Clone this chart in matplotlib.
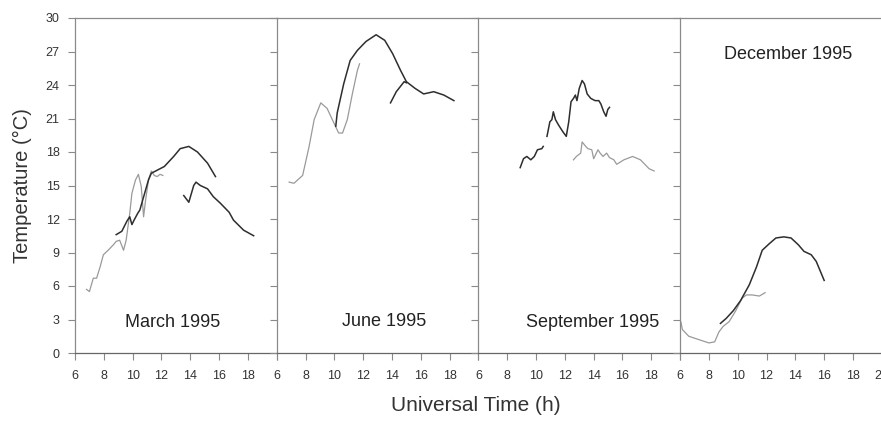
import matplotlib
matplotlib.use("Agg")
import matplotlib.pyplot as plt

plt.rcParams['font.family'] = ['Liberation Sans', 'DejaVu Sans']

# panel titles and where they sit (data coords)
months = ["March 1995", "June 1995", "September 1995", "December 1995"]
label_x = [12.75, 13.45, 13.9, 13.5]
label_y = [2.7, 2.8, 2.7, 26.7]

hour_ticks = [6, 8, 10, 12, 14, 16, 18, 20]
hour_labels = ["6", "8", "10", "12", "14", "16", "18", "20"]
temp_ticks = [0, 3, 6, 9, 12, 15, 18, 21, 24, 27, 30]

# March 1995
mar_gray_t = [6.8, 7.0, 7.27, 7.5, 7.74, 7.97, 8.3, 8.67, 8.86, 9.1, 9.37, 9.55, 9.8, 9.95,
              10.2, 10.4, 10.6, 10.76, 10.9, 11.1, 11.3, 11.5, 11.7, 11.9, 12.1]
mar_gray_T = [5.7, 5.5, 6.7, 6.7, 7.7, 8.8, 9.2, 9.7, 10.0, 10.1, 9.2, 10.1, 12.5, 14.3,
              15.5, 16.0, 14.9, 12.2, 13.7, 15.5, 16.3, 15.9, 15.8, 16.0, 15.9]
mar_dark1_t = [8.86, 9.25, 9.6, 9.8, 9.95, 10.1, 10.35, 10.5, 10.7, 10.9, 11.1, 11.3,
               12.2, 12.85, 13.3, 13.9, 14.5, 15.2, 15.75]
mar_dark1_T = [10.6, 10.9, 11.8, 12.2, 11.5, 11.9, 12.5, 12.8, 13.7, 14.6, 15.5, 16.1,
               16.7, 17.6, 18.3, 18.5, 18.0, 17.0, 15.8]
mar_dark2_t = [13.55, 13.9, 14.24, 14.4, 14.7, 15.2, 15.6, 16.1, 16.7, 17.0, 17.7, 18.4]
mar_dark2_T = [14.1, 13.5, 15.0, 15.3, 15.0, 14.7, 14.0, 13.4, 12.6, 11.9, 11.0, 10.5]

# June 1995
jun_gray_t = [6.86, 7.2, 7.8, 8.25, 8.6, 9.06, 9.5, 9.97, 10.3, 10.57, 10.9, 11.25, 11.6, 11.75]
jun_gray_T = [15.3, 15.2, 15.9, 18.5, 20.9, 22.4, 21.9, 20.6, 19.7, 19.7, 20.9, 23.2, 25.3, 25.9]
jun_dark1_t = [10.1, 10.2, 10.65, 11.1, 11.6, 12.2, 12.9, 13.5, 14.05, 14.6, 15.0,
               15.6, 16.2, 16.9, 17.6, 18.3]
jun_dark1_T = [20.3, 21.5, 24.1, 26.2, 27.1, 27.9, 28.5, 28.0, 26.8, 25.3, 24.3,
               23.7, 23.2, 23.4, 23.1, 22.6]
jun_dark2_t = [13.9, 14.3, 14.85, 15.0]
jun_dark2_T = [22.4, 23.4, 24.3, 24.2]

# September 1995
sep_dark1_t = [8.9, 9.13, 9.36, 9.64, 9.88, 10.1, 10.4, 10.5]
sep_dark1_T = [16.6, 17.4, 17.6, 17.3, 17.6, 18.2, 18.3, 18.5]
sep_dark2_t = [10.76, 10.96, 11.1, 11.2, 11.35, 11.57, 11.87, 12.1, 12.27, 12.43, 12.6,
               12.73, 12.84, 13.0, 13.2, 13.36, 13.55, 13.8, 14.1, 14.36, 14.5, 14.7,
               14.86, 14.98, 15.1]
sep_dark2_T = [19.4, 20.7, 20.9, 21.6, 20.9, 20.4, 19.8, 19.4, 20.7, 22.5, 22.8,
               23.1, 22.6, 23.7, 24.4, 24.1, 23.2, 22.8, 22.6, 22.6, 22.3, 21.6,
               21.2, 21.8, 22.0]
sep_gray_t = [12.6, 12.8, 13.1, 13.2, 13.45, 13.6, 13.87, 14.0, 14.3, 14.45, 14.65, 14.9,
              15.1, 15.4, 15.6, 16.1, 16.7, 17.25, 17.85, 18.2]
sep_gray_T = [17.3, 17.6, 17.9, 18.9, 18.5, 18.3, 18.2, 17.4, 18.2, 17.9, 17.6, 17.9,
              17.5, 17.3, 16.9, 17.3, 17.6, 17.3, 16.5, 16.3]

# December 1995
dec_gray_t = [6.05, 6.16, 6.6, 7.3, 8.0, 8.4, 8.7, 9.0, 9.4, 9.87, 10.3, 10.6, 11.0, 11.5, 11.9]
dec_gray_T = [2.8, 2.1, 1.5, 1.2, 0.9, 1.0, 1.9, 2.4, 2.8, 3.8, 4.9, 5.2, 5.2, 5.1, 5.4]
dec_dark_t = [8.8, 9.2, 9.7, 10.2, 10.8, 11.3, 11.7, 12.2, 12.65, 13.2, 13.7, 14.2,
              14.6, 15.1, 15.45, 16.0]
dec_dark_T = [2.65, 3.1, 3.8, 4.7, 6.1, 7.7, 9.2, 9.8, 10.3, 10.4, 10.3, 9.7,
              9.1, 8.8, 8.2, 6.5]

dark = "#2e2e2e"
gray = "#9a9a9a"
axis_col = "#8a8a8a"

panels = [
    [(mar_gray_t, mar_gray_T, gray), (mar_dark1_t, mar_dark1_T, dark), (mar_dark2_t, mar_dark2_T, dark)],
    [(jun_gray_t, jun_gray_T, gray), (jun_dark1_t, jun_dark1_T, dark), (jun_dark2_t, jun_dark2_T, dark)],
    [(sep_dark1_t, sep_dark1_T, dark), (sep_dark2_t, sep_dark2_T, dark), (sep_gray_t, sep_gray_T, gray)],
    [(dec_gray_t, dec_gray_T, gray), (dec_dark_t, dec_dark_T, dark)],
]

fig = plt.figure(figsize=(8.81, 4.42), dpi=100)
left0 = 75 / 881
width = 201.7 / 881
bottom = 1 - 353 / 442
height = (353 - 18) / 442

for i in range(4):
    ax = fig.add_axes([left0 + i * width, bottom, width, height])
    for t, T, c in panels[i]:
        ax.plot(t, T, color=c, lw=1.1 if c == dark else 0.9)
    ax.set_xlim(6, 20)
    ax.set_ylim(0, 30)
    ax.set_xticks(hour_ticks)
    ax.set_yticks(temp_ticks)
    if i < 3:
        ax.set_xticklabels(hour_labels[:-1] + [""])
    else:
        ax.set_xticklabels(hour_labels)
    if i > 0:
        ax.set_yticklabels([])
    ax.tick_params(axis='both', direction='out', length=5, width=0.8, color=axis_col,
                   labelsize=9, labelcolor="#333333")
    ax.tick_params(axis='x', pad=7)
    ax.tick_params(axis='y', pad=6)
    for s in ['left', 'top', 'bottom']:
        ax.spines[s].set_color(axis_col)
        ax.spines[s].set_linewidth(0.9)
    ax.spines['bottom'].set_color("#666666")
    ax.spines['right'].set_visible(False)
    ax.text(label_x[i], label_y[i], months[i], ha='center', va='center',
            fontsize=13, color="#222222")
    if i == 0:
        ax.set_ylabel("Temperature (°C)", fontsize=14.5, color="#333333", labelpad=10)

fig.text(0.54, 0.083, "Universal Time (h)", ha='center', va='center',
         fontsize=15, color="#333333")

fig.savefig("out.png", dpi=100)
